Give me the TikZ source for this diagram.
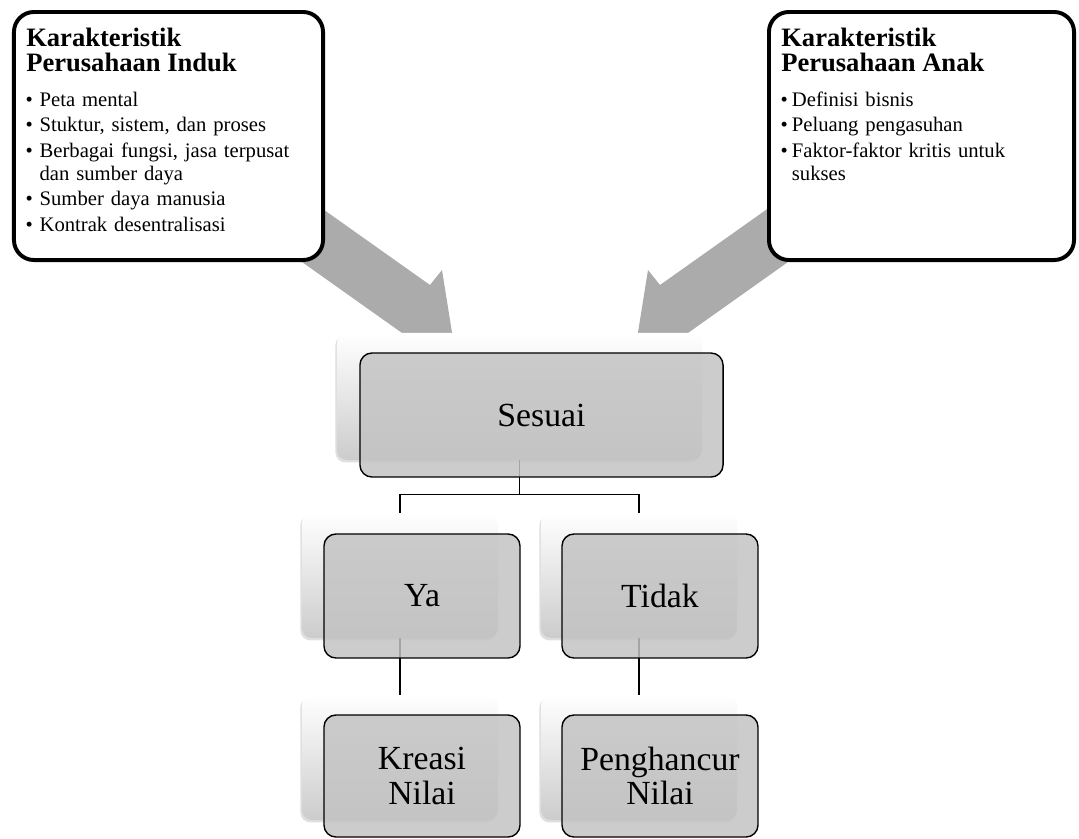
\documentclass[tikz,border=0pt]{standalone}
\usepackage{fontspec}
\setmainfont{Liberation Serif}
\usetikzlibrary{calc,shadows}
\definecolor{arrowgray}{RGB}{171,171,171}
\newlength\bulind
\newcommand\pitem[1]{\hangindent=\bulind\hangafter=1\noindent\makebox[\bulind][l]{\textbullet}#1\par}

\begin{document}
\begin{tikzpicture}[x=0.025cm, y=-0.025cm,
  bigbox/.style={draw, line width=2.8pt, rounded corners=0.5cm, fill=white, minimum height=6.2cm},
  backbox/.style={rounded corners=0.25cm, top color=white, bottom color=gray!40, minimum width=4.9cm, minimum height=3.125cm, drop shadow={shadow xshift=-0.04cm, shadow yshift=-0.06cm, opacity=0.25}},
  frontbox/.style={draw, line width=1pt, rounded corners=0.3cm, fill=gray!47, fill opacity=0.85, text opacity=1, minimum width=4.9cm, minimum height=3.1cm, align=center, font=\fontsize{24}{24.8}\selectfont},
  headtext/.style={anchor=base west, inner sep=0pt, align=left, font=\bfseries\fontsize{18.9}{17.7}\selectfont},
  itemlist/.style={anchor=base west, inner sep=0pt, text width=#1, font=\fontsize{14.7}{16.3}\selectfont},
  link/.style={line width=0.9pt},
  blockarrow/.style={fill=arrowgray}
]
\useasboundingbox (0,0) rectangle (1079,838);
\fill[blockarrow] (280,178.7) -- (430,285) -- (442,270) -- (454,345) -- (419,345) -- (260,232.2) -- cycle;
\fill[blockarrow] (810,178.7) -- (660,285) -- (648,270) -- (636,345) -- (671,345) -- (830,232.2) -- cycle;

\node[bigbox, minimum width=7.725cm] (induk) at (168.5,136) {};
\node[bigbox, minimum width=7.625cm] (anak) at (921.5,136) {};
\node[headtext] (indukjudul) at (26,71.7) {Karakteristik\\Perusahaan Induk};
\node[itemlist=7.2cm] (indukisi) at (25.4,106) {\setlength\bulind{9.9pt}\setlength\parskip{1.9pt}%
  \pitem{Peta mental}\pitem{Stuktur, sistem, dan proses}\pitem{Berbagai fungsi, jasa terpusat\newline dan sumber daya}%
  \pitem{Sumber daya manusia}\pitem{Kontrak desentralisasi}};
\node[headtext] (anakjudul) at (781,71.7) {Karakteristik\\Perusahaan Anak};
\node[itemlist=7cm] (anakisi) at (780.4,106) {\setlength\bulind{8pt}\setlength\parskip{1.9pt}%
  \pitem{Definisi bisnis}\pitem{Peluang pengasuhan}\pitem{Faktor-faktor kritis untuk\newline sukses}};

\node[backbox, minimum width=9.125cm, minimum height=3.175cm] (sesuaiB) at (519.5,396.5) {};
\node[backbox] (yaB) at (400,575.5) {};
\node[backbox] (tidakB) at (639,575.5) {};
\node[backbox] (kreasiB) at (400,757.5) {};
\node[backbox] (hancurB) at (639,757.5) {};

\draw[link] (yaB.north) -- ++(0,-18) -| (sesuaiB.south);
\draw[link] (tidakB.north) -- ++(0,-18) -| (sesuaiB.south);
\draw[link] (yaB.south) -- (kreasiB.north);
\draw[link] (tidakB.south) -- (hancurB.north);

\node[frontbox, minimum width=9.075cm] (sesuai) at ($(sesuaiB)+(22,18.5)$) {Sesuai};
\node[frontbox] (ya) at ($(yaB)+(22,20.5)$) {Ya};
\node[frontbox] (tidak) at ($(tidakB)+(21,20.5)$) {Tidak};
\node[frontbox, minimum height=3.05cm] (kreasi) at ($(kreasiB)+(22,18.5)$) {Kreasi\\Nilai};
\node[frontbox, minimum height=3.05cm] (hancur) at ($(hancurB)+(21,18.5)$) {Penghancur\\Nilai};
\end{tikzpicture}
\end{document}
